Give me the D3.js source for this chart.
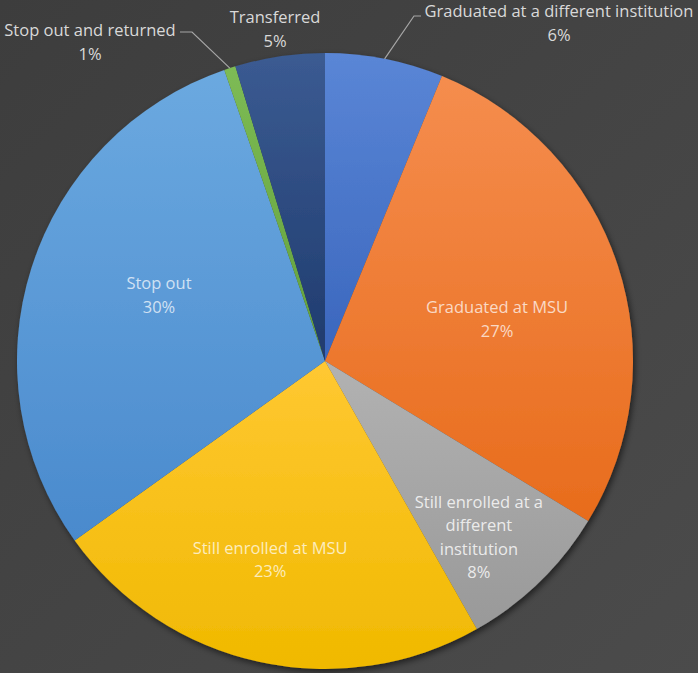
<!DOCTYPE html>
<html><head><meta charset="utf-8">
<script src="https://cdn.jsdelivr.net/npm/d3@7"></script>
<style>
html,body{margin:0;padding:0;background:#444;}
svg{display:block;}
</style></head>
<body>
<svg id="chart" width="698" height="673"></svg>
<script>
// ---- data ----
const categories = [
  "Graduated at a different institution",
  "Graduated at MSU",
  "Still enrolled at a different institution",
  "Still enrolled at MSU",
  "Stop out",
  "Stop out and returned",
  "Transferred"
];
const values = [6.2, 27.5, 8.1, 23.3, 29.6, 0.6, 4.7];
const pctLabels = ["6%", "27%", "8%", "23%", "30%", "1%", "5%"];
const labelLines = [
  ["Graduated at a different institution"],
  ["Graduated at MSU"],
  ["Still enrolled at a", "different", "institution"],
  ["Still enrolled at MSU"],
  ["Stop out"],
  ["Stop out and returned"],
  ["Transferred"]
];

// ---- styles / layout ----
const colorsTop = ["#5a86d6", "#f58d4e", "#b2b2b2", "#ffc832", "#6ba9e0", "#7dbb55", "#3b5b92"];
const colorsBot = ["#3a66bd", "#e86c1c", "#999999", "#f0b900", "#4a8acd", "#62a03b", "#1f3b6e"];
// inside label placement: [angle offset (deg), radius fraction]
const insideLayout = {1: [4.5, 0.575], 2: [3, 0.76], 3: [3, 0.67], 4: [4, 0.58]};
// outside label positions (x centre, first baseline)
const outsideLayout = {
  0: {x: 559, y: 17, path: [[414, 16], [421, 16]]},
  5: {x: 90, y: 36, path: [[192, 32], [180, 32]]},
  6: {x: 275, y: 23, path: null}
};

const W = 698, H = 673, cx = 325, cy = 361, R = 308;
const svg = d3.select("#chart");
const defs = svg.append("defs");

const bg = defs.append("linearGradient").attr("id", "bg").attr("x1", 0).attr("y1", 0).attr("x2", 1).attr("y2", 1);
bg.append("stop").attr("offset", 0).attr("stop-color", "#3d3d3d");
bg.append("stop").attr("offset", 1).attr("stop-color", "#4b4b4b");
svg.append("rect").attr("width", W).attr("height", H).attr("fill", "url(#bg)");

const sh = defs.append("filter").attr("id", "shadow").attr("x", "-10%").attr("y", "-10%").attr("width", "120%").attr("height", "120%");
sh.append("feDropShadow").attr("dx", 2).attr("dy", 3).attr("stdDeviation", 3).attr("flood-color", "#000").attr("flood-opacity", 0.55);

categories.forEach((c, i) => {
  const g = defs.append("linearGradient").attr("id", "g" + i).attr("x1", 0).attr("y1", 0).attr("x2", 0).attr("y2", 1);
  g.append("stop").attr("offset", 0).attr("stop-color", colorsTop[i]);
  g.append("stop").attr("offset", 1).attr("stop-color", colorsBot[i]);
});

const pie = d3.pie().value(d => d).sort(null);
const arcs = pie(values);
const arc = d3.arc().innerRadius(0).outerRadius(R);

const root = svg.append("g").attr("transform", `translate(${cx},${cy})`);
const slices = root.append("g").attr("filter", "url(#shadow)");
slices.selectAll("path").data(arcs).join("path")
  .attr("d", arc)
  .attr("fill", (d, i) => `url(#g${i})`);

const font = "'Open Sans', sans-serif";
const fs = 16.5, lh = 23.5;

// inside labels
Object.entries(insideLayout).forEach(([k, [off, f]]) => {
  const i = +k, d = arcs[i];
  const a = (d.startAngle + d.endAngle) / 2 + off * Math.PI / 180;
  const r = R * f;
  const x = r * Math.sin(a), y = -r * Math.cos(a);
  const lines = labelLines[i].concat([pctLabels[i]]);
  const t = root.append("text").attr("text-anchor", "middle")
    .attr("font-family", font).attr("font-size", fs)
    .attr("fill", "#ffffff").attr("fill-opacity", i === 2 ? 0.8 : 0.72);
  const y0 = y - (lines.length - 1) * lh / 2;
  lines.forEach((s, j) => t.append("tspan").attr("x", x).attr("y", y0 + j * lh).attr("dy", "0.35em").text(s));
});

// outside labels with leader lines
Object.entries(outsideLayout).forEach(([k, o]) => {
  const i = +k, d = arcs[i];
  const a = (d.startAngle + d.endAngle) / 2;
  const px = cx + R * Math.sin(a), py = cy - R * Math.cos(a);
  if (o.path) {
    const pts = [[px, py]].concat(o.path);
    svg.append("path").attr("d", d3.line()(pts))
      .attr("fill", "none").attr("stroke", "#a6a6a6").attr("stroke-width", 1.2);
  }
  const lines = labelLines[i].concat([pctLabels[i]]);
  const t = svg.append("text").attr("text-anchor", "middle")
    .attr("font-family", font).attr("font-size", fs).attr("fill", "#d9d9d9");
  lines.forEach((s, j) => t.append("tspan").attr("x", o.x).attr("y", o.y + j * lh).text(s));
});
</script>
</body></html>
